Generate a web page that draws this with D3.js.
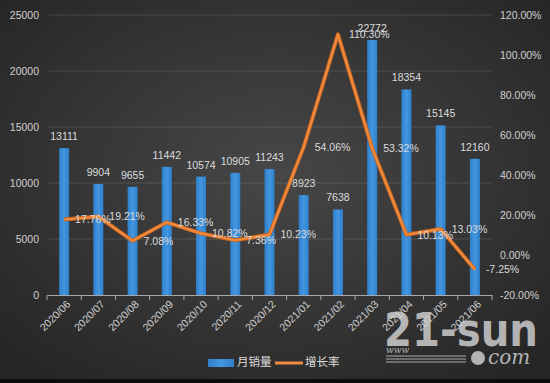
<!DOCTYPE html>
<html><head><meta charset="utf-8">
<script src="https://cdn.jsdelivr.net/npm/d3@7"></script>
<style>html,body{margin:0;padding:0;background:#333;}svg{display:block;}</style>
</head><body>
<svg id="c" width="550" height="383"></svg>
<script>
const categories = ["2020/06","2020/07","2020/08","2020/09","2020/10","2020/11","2020/12","2021/01","2021/02","2021/03","2021/04","2021/05","2021/06"];
const sales = [13111, 9904, 9655, 11442, 10574, 10905, 11243, 8923, 7638, 22772, 18354, 15145, 12160];
const growth = [17.76, 19.21, 7.08, 16.33, 10.82, 7.36, 10.23, 54.06, 110.30, 53.32, 10.13, 13.03, -7.25];
const leftTicks = [0, 5000, 10000, 15000, 20000, 25000];
const rightTicks = [-20, 0, 20, 40, 60, 80, 100, 120];
const legendLabels = ["月销量", "增长率"];

const svg = d3.select("#c");
const W = 550, H = 383;
const font = "'Liberation Sans', Arial, sans-serif";

const defs = svg.append("defs");
const rg = defs.append("radialGradient").attr("id","bg").attr("cx","50%").attr("cy","45%").attr("r","70%");
rg.append("stop").attr("offset","0%").attr("stop-color","#474747");
rg.append("stop").attr("offset","100%").attr("stop-color","#252525");
const bgr = defs.append("linearGradient").attr("id","bar").attr("x1","0").attr("x2","1");
bgr.append("stop").attr("offset","0%").attr("stop-color","#2f7fcb");
bgr.append("stop").attr("offset","50%").attr("stop-color","#4396e0");
bgr.append("stop").attr("offset","100%").attr("stop-color","#2f7fcb");

svg.append("rect").attr("width",W).attr("height",H).attr("fill","url(#bg)");
svg.append("rect").attr("x",0).attr("y",H-4).attr("width",W).attr("height",4).attr("fill","#0d0d0d");

const x = d3.scaleBand().domain(categories).range([47, 492]).padding(0);
const yL = d3.scaleLinear().domain([0, 25000]).range([295, 15]);
const yR = d3.scaleLinear().domain([-20, 120]).range([295, 15]);

// gridlines
svg.append("g").selectAll("line").data(leftTicks.filter(d=>d>0)).join("line")
  .attr("x1",47).attr("x2",492).attr("y1",d=>yL(d)).attr("y2",d=>yL(d))
  .attr("stroke","rgba(255,255,255,0.13)").attr("stroke-width",1);

// left axis
const axL = svg.append("g").attr("transform","translate(47,0)")
  .call(d3.axisLeft(yL).tickValues(leftTicks).tickSize(0).tickPadding(8).tickFormat(d3.format("d")));
axL.select(".domain").remove();
axL.selectAll("text").attr("fill","#cfcfcf").attr("font-size","10.5px").attr("font-family",font);

// right axis
const axR = svg.append("g").attr("transform","translate(492,0)")
  .call(d3.axisRight(yR).tickValues(rightTicks).tickSize(0).tickPadding(8).tickFormat(d=>d.toFixed(2)+"%"));
axR.select(".domain").remove();
axR.selectAll("text").attr("fill","#cfcfcf").attr("font-size","10.5px").attr("font-family",font);

// bars
const bw = 10;
svg.append("g").selectAll("rect").data(categories).join("rect")
  .attr("x",(d)=>x(d)+x.bandwidth()/2-bw/2)
  .attr("y",(d,i)=>yL(sales[i]))
  .attr("width",bw)
  .attr("height",(d,i)=>yL(0)-yL(sales[i]))
  .attr("fill","url(#bar)");

// bottom axis
const axB = svg.append("g").attr("transform","translate(0,295)")
  .call(d3.axisBottom(x).tickSize(0).tickFormat(""));
axB.select(".domain").attr("stroke","#a8a8a8").attr("stroke-width",1);
svg.append("g").selectAll("line").data(d3.range(categories.length+1)).join("line")
  .attr("x1",i=>47+i*x.step()).attr("x2",i=>47+i*x.step())
  .attr("y1",295).attr("y2",300).attr("stroke","#a8a8a8");
svg.append("g").selectAll("text").data(categories).join("text")
  .attr("transform",d=>`translate(${x(d)+x.bandwidth()/2+5},303) rotate(-45)`)
  .attr("text-anchor","end").attr("dominant-baseline","middle")
  .attr("fill","#cfcfcf").attr("font-size","10.5px").attr("font-family",font)
  .text(d=>d);

// bar labels
svg.append("g").selectAll("text").data(categories).join("text")
  .attr("x",d=>x(d)+x.bandwidth()/2)
  .attr("y",(d,i)=>yL(sales[i])-8)
  .attr("text-anchor","middle")
  .attr("fill","#dcdcdc").attr("font-size","10.5px").attr("font-family",font)
  .text((d,i)=>sales[i]);

// line
const line = d3.line().x((d,i)=>x(categories[i])+x.bandwidth()/2).y(d=>yR(d));
svg.append("path").datum(growth).attr("d",line)
  .attr("fill","none").attr("stroke","#c9651f").attr("stroke-width",4).attr("stroke-linejoin","round");
svg.append("path").datum(growth).attr("d",line)
  .attr("fill","none").attr("stroke","#ef8a3e").attr("stroke-width",2.2).attr("stroke-linejoin","round");

// line labels
svg.append("g").selectAll("text").data(growth).join("text")
  .attr("x",(d,i)=>x(categories[i])+x.bandwidth()/2+11)
  .attr("y",d=>yR(d)+1)
  .attr("dominant-baseline","middle")
  .attr("fill","#dcdcdc").attr("font-size","10.5px").attr("font-family",font)
  .text(d=>d.toFixed(2)+"%");

// legend
const lg = svg.append("g");
lg.append("rect").attr("x",208).attr("y",359).attr("width",26).attr("height",8).attr("fill","url(#bar)");
lg.append("text").attr("x",237).attr("y",363).attr("dominant-baseline","middle")
  .attr("fill","#dcdcdc").attr("font-size","11.5px").attr("font-family","'Noto Sans CJK SC', sans-serif").text(legendLabels[0]);
lg.append("line").attr("x1",275).attr("x2",303).attr("y1",363).attr("y2",363).attr("stroke","#ef8a3e").attr("stroke-width",3);
lg.append("text").attr("x",305).attr("y",363).attr("dominant-baseline","middle")
  .attr("fill","#dcdcdc").attr("font-size","11.5px").attr("font-family","'Noto Sans CJK SC', sans-serif").text(legendLabels[1]);

// watermark
const wm = svg.append("g").attr("opacity",0.8);
wm.append("text").attr("x",384).attr("y",346).attr("fill","#d6d6d6")
  .attr("font-size","46px").attr("font-weight","bold").attr("font-family","'DejaVu Sans', sans-serif")
  .attr("textLength",154).attr("lengthAdjust","spacingAndGlyphs").text("21-sun");
wm.append("text").attr("x",386).attr("y",353).attr("fill","#d0d0d0")
  .attr("font-size","9px").attr("font-style","italic").attr("font-family","'DejaVu Serif', serif").text("www");
[356,359,362].forEach(yy=>wm.append("line").attr("x1",386).attr("x2",466).attr("y1",yy).attr("y2",yy).attr("stroke","#d0d0d0").attr("stroke-width",1.2));
wm.append("circle").attr("cx",478).attr("cy",358).attr("r",7).attr("fill","#d6d6d6");
wm.append("text").attr("x",488).attr("y",364).attr("fill","#d6d6d6")
  .attr("font-size","20px").attr("font-style","italic").attr("font-family","'DejaVu Serif', serif").text("com");
</script>
</body></html>
